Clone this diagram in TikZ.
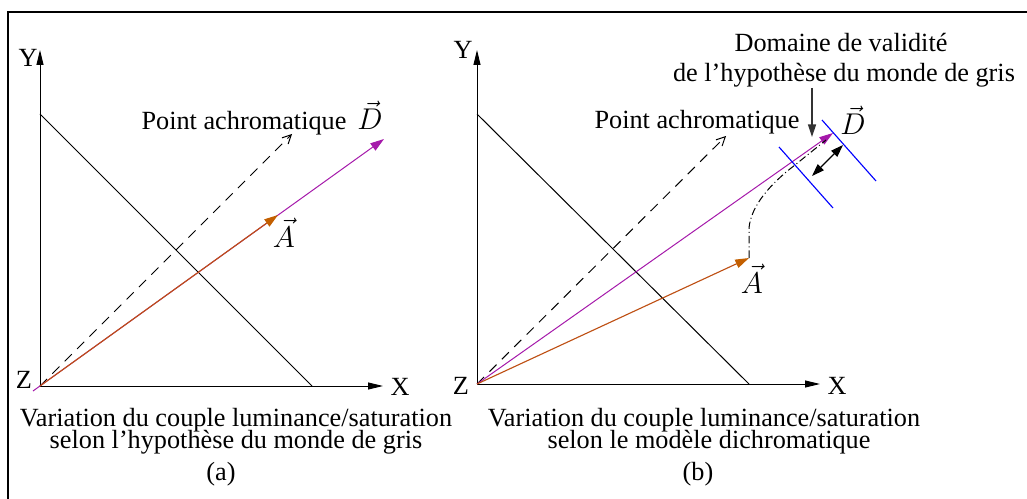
\documentclass[tikz,border=0pt]{standalone}
\usepackage{fontspec}
\setmainfont{Liberation Serif}
\usetikzlibrary{arrows.meta}
\definecolor{vpurple}{RGB}{165,25,170}
\definecolor{vbrown}{RGB}{190,80,20}
\definecolor{vbrownhead}{RGB}{195,95,0}
\definecolor{vblue}{RGB}{0,0,255}
\begin{document}
\begin{tikzpicture}[x=0.4pt,y=-0.4pt,
  font=\fontsize{10.5}{12}\selectfont,
  every node/.style={inner sep=0pt, outer sep=0pt},
  frameline/.style={line width=0.45pt},
  axis/.style={line width=0.4pt, -{Triangle[length=6pt,width=2.8pt]}},
  tieline/.style={line width=0.4pt},
  achrom/.style={line width=0.4pt, dash pattern=on 4pt off 3pt, -{Straight Barb[length=3.5pt,width=3.5pt]}},
  vecD/.style={vpurple, line width=0.4pt, -{Triangle[length=5.5pt,width=3.5pt]}},
  vecA/.style={vbrown, line width=0.45pt, -{Triangle[length=5.5pt,width=3.5pt,fill=vbrownhead,color=vbrownhead]}},
  path/.style={line width=0.4pt, dash pattern=on 3pt off 1.2pt on 0.4pt off 1.2pt},
  bound/.style={vblue, line width=0.45pt},
  dbl/.style={line width=0.45pt, {Triangle[length=5pt,width=3.4pt]}-{Triangle[length=5pt,width=3.4pt]}},
  pointer/.style={black!80, line width=0.5pt, -{Triangle[length=5pt,width=3.2pt]}},
  lab/.style={anchor=base},
  veclab/.style={anchor=base, font=\fontsize{12}{14}\selectfont}]
\useasboundingbox (0,0) rectangle (1027,499);
\draw[frameline] (8,12) rectangle (1045,515);

% ---------- panel (a) ----------
\coordinate (Oa) at (40,386);
\coordinate (Ya) at (40,50);
\coordinate (Xa) at (383,386);
\coordinate (La1) at (40,114);
\coordinate (La2) at (312,386);
\coordinate (Pa) at (292,134);
\coordinate (Da) at (384,139);
\coordinate (Da0) at (33,391);
\coordinate (Aa) at (278,215);

\draw[axis] (Oa) -- (Ya);
\draw[axis] (Oa) -- (Xa);
\draw[tieline] (La1) -- (La2);
\draw[achrom] (Oa) -- (Pa);
\draw[vecD] (Da0) -- (Da);
\draw[vecA] (Oa) -- (Aa);

\node (ya) at (28,58) {Y};
\node (za) at (24,380) {Z};
\node (xa) at (400,387) {X};
\node[lab] (pta) at (244,130) {Point achromatique};
\node[veclab] (dla) at (370,130) {$\vec{D}$};
\node[veclab] (ala) at (284,247) {$\vec{A}$};
\node[lab] (ca1) at (236,426) {Variation du couple luminance/saturation};
\node[lab] (ca2) at (236,448) {selon l’hypothèse du monde de gris};
\node[lab] (ca3) at (221,480) {(a)};

% ---------- panel (b) ----------
\coordinate (Ob) at (477,384);
\coordinate (Yb) at (477,50);
\coordinate (Xb) at (820,384);
\coordinate (Lb1) at (477,114);
\coordinate (Lb2) at (749,384);
\coordinate (Pb) at (726,136);
\coordinate (Db) at (833,133);
\coordinate (Ab) at (749,258);
\coordinate (Cb1) at (749,228);
\coordinate (Cb2) at (795,165);
\coordinate (Cb3) at (826,140);
\coordinate (B1s) at (779,147);
\coordinate (B1e) at (833,208);
\coordinate (B2s) at (822,120);
\coordinate (B2e) at (876,181);
\coordinate (W1) at (812,176);
\coordinate (W2) at (843,145);
\coordinate (Ps) at (812,88);
\coordinate (Pe) at (812,137);

\draw[axis] (Ob) -- (Yb);
\draw[axis] (Ob) -- (Xb);
\draw[tieline] (Lb1) -- (Lb2);
\draw[achrom] (Ob) -- (Pb);
\draw[vecD] (Ob) -- (Db);
\draw[vecA] (Ob) -- (Ab);
\draw[path] (Ab) -- (Cb1) .. controls (751,206) and (770,184) .. (Cb2) -- (Cb3);
\draw[bound] (B1s) -- (B1e);
\draw[bound] (B2s) -- (B2e);
\draw[dbl] (W1) -- (W2);
\draw[pointer] (Ps) -- (Pe);

\node (yb) at (463,50) {Y};
\node (zb) at (461,386) {Z};
\node (xb) at (837,386) {X};
\node[lab] (ptb) at (697,129) {Point achromatique};
\node[lab] (dom1) at (841,52) {Domaine de validité};
\node[lab] (dom2) at (844,82) {de l’hypothèse du monde de gris};
\node[veclab] (dlb) at (853,135) {$\vec{D}$};
\node[veclab] (alb) at (752,293) {$\vec{A}$};
\node[lab] (cb1) at (704,426) {Variation du couple luminance/saturation};
\node[lab] (cb2) at (709,448) {selon le modèle dichromatique};
\node[lab] (cb3) at (698,480) {(b)};
\end{tikzpicture}
\end{document}
